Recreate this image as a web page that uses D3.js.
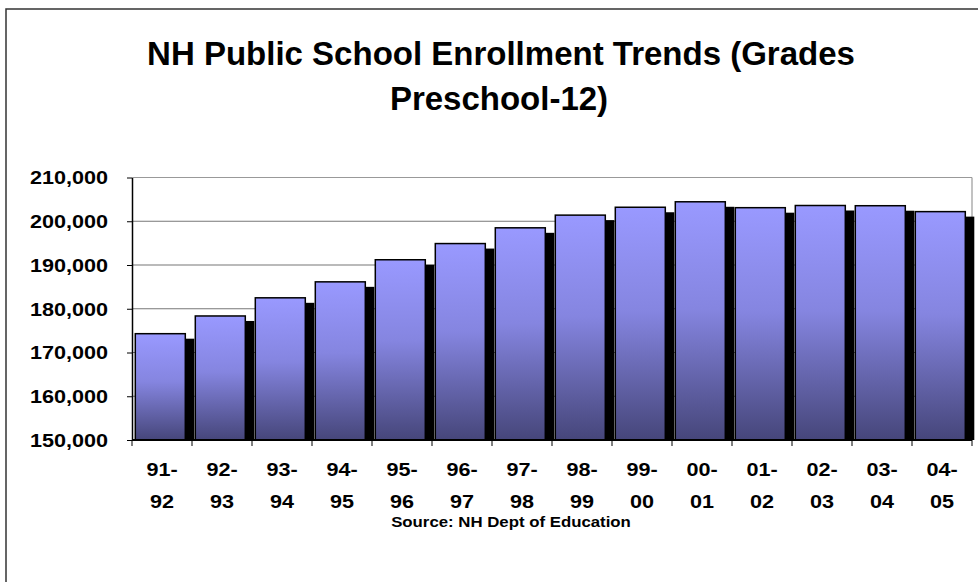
<html>
<head>
<meta charset="utf-8">
<title>NH Public School Enrollment Trends</title>
<script src="https://cdn.jsdelivr.net/npm/d3@7"></script>
<style>
body { margin: 0; background: #fff; }
svg text { font-family: "Liberation Sans", Arial, sans-serif; font-weight: bold; fill: #000; }
</style>
</head>
<body>
<div id="chart"></div>
<script>
// school years, split in two lines like the original labels
var years = ['91-92','92-93','93-94','94-95','95-96','96-97','97-98',
             '98-99','99-00','00-01','01-02','02-03','03-04','04-05'];
var enrollment = [174300, 178350, 182500, 186150, 191200, 194900, 198500,
                  201400, 203200, 204450, 203100, 203600, 203550, 202200];
var yTicks = [150000, 160000, 170000, 180000, 190000, 200000, 210000];

var width = 978, height = 582;
var plotL = 132, plotR = 972, plotT = 177.5, plotB = 440;

var svg = d3.select('#chart').append('svg')
  .attr('width', width).attr('height', height);

var defs = svg.append('defs');
var grad = defs.append('linearGradient').attr('id', 'barfill')
  .attr('x1', 0).attr('y1', 0).attr('x2', 0).attr('y2', 1);
grad.append('stop').attr('offset', '0%').attr('stop-color', '#9999ff');
grad.append('stop').attr('offset', '45%').attr('stop-color', '#8585e0');
grad.append('stop').attr('offset', '100%').attr('stop-color', '#46467a');

// outer chart border (runs off the page at right and bottom)
svg.append('rect')
  .attr('x', 6).attr('y', 9).attr('width', 1100).attr('height', 700)
  .attr('fill', 'none').attr('stroke', '#333').attr('stroke-width', 1.5);

var x = d3.scaleBand().domain(years).range([plotL, plotR]).padding(0);
var y = d3.scaleLinear().domain([150000, 210000]).range([plotB, plotT]);

// title
var title = svg.append('text').attr('text-anchor', 'middle')
  .style('font-size', '33px');
title.append('tspan').attr('x', 501).attr('y', 65).text('NH Public School Enrollment Trends (Grades');
title.append('tspan').attr('x', 499).attr('y', 110).text('Preschool-12)');

// gridlines
svg.append('g').selectAll('line').data(yTicks.slice(1)).enter().append('line')
  .attr('x1', plotL).attr('x2', plotR)
  .attr('y1', function(d){ return y(d); }).attr('y2', function(d){ return y(d); })
  .attr('stroke', function(d){ return d === 210000 ? '#999' : '#777'; })
  .attr('stroke-width', 1.2);

// plot area right border
svg.append('line').attr('x1', plotR).attr('x2', plotR)
  .attr('y1', plotT).attr('y2', plotB)
  .attr('stroke', '#999').attr('stroke-width', 1.2);

var barOff = 3.3, barW = 50, shX = 9, shY = 5;

// shadows
svg.append('g').selectAll('rect').data(enrollment).enter().append('rect')
  .attr('x', function(d, i){ return x(years[i]) + barOff + shX; })
  .attr('y', function(d){ return y(d) + shY; })
  .attr('width', barW)
  .attr('height', function(d){ return plotB - y(d) - shY; })
  .attr('fill', '#000');

// bars
svg.append('g').selectAll('rect').data(enrollment).enter().append('rect')
  .attr('x', function(d, i){ return x(years[i]) + barOff; })
  .attr('y', function(d){ return y(d); })
  .attr('width', barW)
  .attr('height', function(d){ return plotB - y(d); })
  .attr('fill', 'url(#barfill)')
  .attr('stroke', '#000').attr('stroke-width', 1.5);

// y axis
var yAxis = svg.append('g').attr('transform', 'translate(' + plotL + ',0)')
  .call(d3.axisLeft(y).tickValues(yTicks).tickSize(5).tickSizeOuter(0)
        .tickFormat(d3.format(',')));
yAxis.select('.domain').attr('stroke', '#000').attr('stroke-width', 1.5);
yAxis.selectAll('.tick line').attr('stroke', '#000');
yAxis.selectAll('.tick text')
  .attr('x', 0).attr('dy', '0.36em')
  .style('font-size', '18px')
  .attr('transform', 'translate(-24,0) scale(1.2,1)');

// x axis with ticks at category boundaries
svg.append('line').attr('x1', plotL).attr('x2', plotR)
  .attr('y1', plotB).attr('y2', plotB)
  .attr('stroke', '#000').attr('stroke-width', 2);
svg.append('g').selectAll('line').data(years.concat(['end'])).enter().append('line')
  .attr('x1', function(d, i){ return i < years.length ? x(d) : plotR; })
  .attr('x2', function(d, i){ return i < years.length ? x(d) : plotR; })
  .attr('y1', plotB).attr('y2', plotB + 6)
  .attr('stroke', '#000');

var xl = svg.append('g').selectAll('text').data(years).enter().append('text')
  .attr('text-anchor', 'middle')
  .style('font-size', '18px')
  .attr('transform', function(d){
    return 'translate(' + (x(d) + x.bandwidth() / 2) + ',0) scale(1.2,1)';
  });
xl.append('tspan').attr('x', 0).attr('y', 476).text(function(d){ return d.split('-')[0] + '-'; });
xl.append('tspan').attr('x', 0).attr('y', 508).text(function(d){ return d.split('-')[1]; });

// source note
svg.append('text').attr('text-anchor', 'middle')
  .style('font-size', '14px')
  .attr('transform', 'translate(511,527) scale(1.2,1)')
  .text('Source: NH Dept of Education');
</script>
</body>
</html>
